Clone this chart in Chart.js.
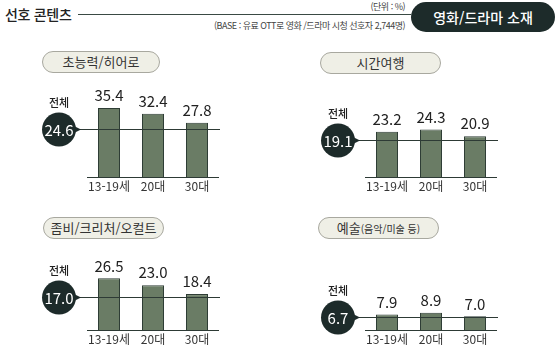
<!DOCTYPE html>
<html lang="ko">
<head>
<meta charset="utf-8">
<script src="https://cdn.jsdelivr.net/npm/chart.js@4"></script>
<style>
  body { margin: 0; width: 559px; height: 354px; background: #fff; position: relative; overflow: hidden;
         font-family: "Noto Sans CJK KR", "Noto Sans", sans-serif; color: #222; }
  .abs { position: absolute; }
  .title { left: 5px; top: 4px; font-size: 14px; font-weight: 500; color: #222; letter-spacing: -0.3px; }
  .rule { left: 78px; top: 14px; width: 333px; height: 1px; background: #3a4a44; }
  .note { right: 154px; font-size: 9px; color: #444; white-space: nowrap; letter-spacing: -0.5px; }
  .badge { left: 411px; top: 2px; width: 144px; height: 30px; border-radius: 15px; background: #1d2b2a;
           color: #fff; font-size: 14px; font-weight: 500; line-height: 30px; text-align: center; }
  .pill { height: 20px; border: 1px solid #a8a89f; border-radius: 11px; background: #efefe6;
          font-size: 13px; line-height: 20px; text-align: center; color: #333; }
  .pill small { font-size: 10px; }
  canvas { position: absolute; }
</style>
</head>
<body>
<div class="abs title">선호 콘텐츠</div>
<div class="abs rule"></div>
<div class="abs note" style="top:0px">(단위 : %)</div>
<div class="abs note" style="top:19px">(BASE : 유료 OTT로 영화 /드라마 시청 선호자 2,744명)</div>
<div class="abs badge">영화/드라마 소재</div>

<div class="abs pill" style="left:42px;top:51px;width:116px">초능력/히어로</div>
<div class="abs pill" style="left:320px;top:52px;width:119px">시간여행</div>
<div class="abs pill" style="left:43px;top:217px;width:119px">좀비/크리처/오컬트</div>
<div class="abs pill" style="left:318px;top:217px;width:119px">예술<small>(음악/미술 등)</small></div>

<canvas id="c1" width="200" height="130" style="left:30px;top:75px"></canvas>
<canvas id="c2" width="200" height="130" style="left:300px;top:75px"></canvas>
<canvas id="c3" width="200" height="126" style="left:30px;top:228px"></canvas>
<canvas id="c4" width="200" height="126" style="left:300px;top:228px"></canvas>

<script>
// data
const ageGroups = ['13-19세', '20대', '30대'];
const heroValues = [35.4, 32.4, 27.8];
const heroTotal = 24.6;
const timeTravelValues = [23.2, 24.3, 20.9];
const timeTravelTotal = 19.1;
const zombieValues = [26.5, 23.0, 18.4];
const zombieTotal = 17.0;
const artValues = [7.9, 8.9, 7.0];
const artTotal = 6.7;

const FONT = '"Noto Sans CJK KR", "Noto Sans", sans-serif';

// baseline, total line + badge, value and category labels
const panelDecor = {
    id: 'panelDecor',
    afterDatasetsDraw(chart, args, opts) {
        const ctx = chart.ctx;
        const area = chart.chartArea;
        const y = chart.scales.y;
        const bars = chart.getDatasetMeta(0).data;
        const values = chart.data.datasets[0].data;
        ctx.save();

        ctx.strokeStyle = '#2d3a35';
        ctx.lineWidth = 1;
        ctx.beginPath();
        ctx.moveTo(area.left, area.bottom + 0.5);
        ctx.lineTo(area.right, area.bottom + 0.5);
        ctx.stroke();

        const ty = Math.round(y.getPixelForValue(opts.total)) + 0.5;
        const r = 17;
        const cx = opts.badgeX;
        ctx.beginPath();
        ctx.moveTo(cx + r, ty);
        ctx.lineTo(area.right + 1, ty);
        ctx.stroke();

        ctx.fillStyle = '#1d2b2a';
        ctx.beginPath();
        ctx.arc(cx, ty, r, 0, Math.PI * 2);
        ctx.fill();
        ctx.beginPath();
        ctx.moveTo(cx + r - 3, ty - 4);
        ctx.lineTo(cx + r + 5, ty);
        ctx.lineTo(cx + r - 3, ty + 4);
        ctx.fill();

        ctx.fillStyle = '#fff';
        ctx.font = '15px ' + FONT;
        ctx.textAlign = 'center';
        ctx.textBaseline = 'middle';
        ctx.fillText(opts.total.toFixed(1), cx, ty + 1);

        ctx.fillStyle = '#222';
        ctx.font = '500 11px ' + FONT;
        ctx.fillText('전체', cx, ty - r - 10);

        ctx.font = '15px ' + FONT;
        ctx.textBaseline = 'bottom';
        bars.forEach((bar, i) => {
            ctx.fillText(values[i].toFixed(1), bar.x, bar.y - 5);
        });

        ctx.font = '12px ' + FONT;
        ctx.textBaseline = 'top';
        ctx.fillStyle = '#333';
        chart.data.labels.forEach((lab, i) => {
            ctx.fillText(lab, chart.scales.x.getPixelForValue(i), area.bottom + 3);
        });
        ctx.restore();
    }
};

function makePanel(id, values, total, pad, badgeX) {
    new Chart(document.getElementById(id), {
        type: 'bar',
        data: {
            labels: ageGroups,
            datasets: [{
                data: values,
                backgroundColor: '#6a7c65',
                borderColor: '#2e3d35',
                borderWidth: 1,
                borderSkipped: 'bottom',
                barPercentage: 0.5,
                categoryPercentage: 1
            }]
        },
        options: {
            responsive: false,
            animation: false,
            layout: { padding: pad },
            scales: {
                x: { display: false },
                y: { display: false, min: 0, max: 40 }
            },
            plugins: {
                legend: { display: false },
                tooltip: { enabled: false },
                panelDecor: { total: total, badgeX: badgeX }
            }
        },
        plugins: [panelDecor]
    });
}

makePanel('c1', heroValues, heroTotal, { left: 57, right: 11, top: 24, bottom: 28 }, 29);
makePanel('c2', timeTravelValues, timeTravelTotal, { left: 65, right: 3, top: 24, bottom: 28 }, 38);
makePanel('c3', zombieValues, zombieTotal, { left: 57, right: 11, top: 24, bottom: 24 }, 29);
makePanel('c4', artValues, artTotal, { left: 65, right: 3, top: 24, bottom: 24 }, 38);
</script>
</body>
</html>
